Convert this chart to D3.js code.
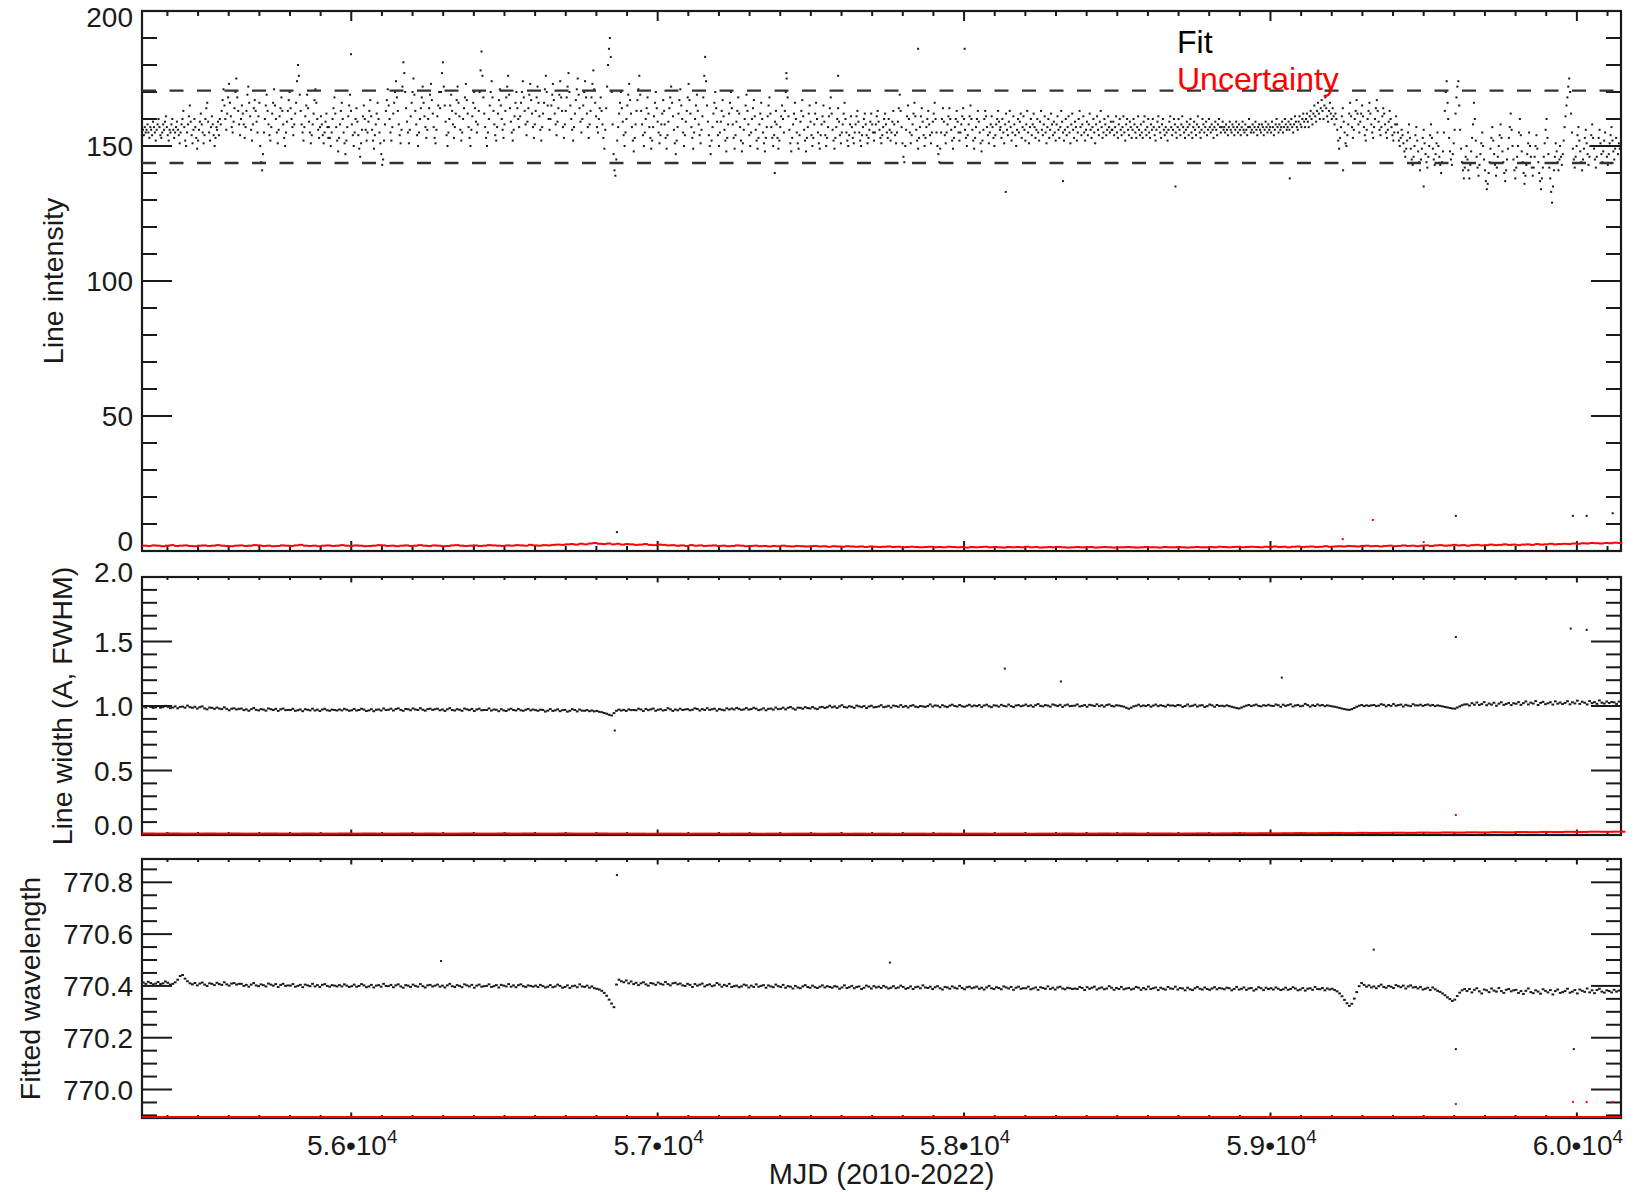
<!DOCTYPE html>
<html>
<head>
<meta charset="utf-8">
<script src="https://cdn.jsdelivr.net/npm/d3@7"></script>
<style>
  html, body { margin: 0; padding: 0; background: #fff; }
  svg { display: block; }
</style>
</head>
<body>
<svg id="chart" width="1645" height="1192"></svg>
<script>
// ---------------------------------------------------------------------------
// Line fit results over the mission (MJD). Intensity fits are stored per
// calendar year at a 3-day cadence, starting on the first day of each block.
// ---------------------------------------------------------------------------
const fitYearStart = [55317, 55562, 55927, 56293, 56658, 57023, 57388, 57754, 58119, 58484, 58849, 59215, 59580, 59945];
const fitCadence = 3;

const fit2010 = [155,156,154,157,155,156,158,155,153,157,156,154,159,157,155,152,156,158,160,157,154,153,155,158,156,159,161,157,154,152,156,155,158,160,156,153,155,157,159,156,154,151,155,158,
  160,163,157,152,150,155,158,161,165,159,154,151,156,160,157,153,149,152,156,159,162,158,155,151,154,160,164,166,159,155,152,157,161,158,154,150,153,157];
const fit2011 = [156,159,154,160,158,
  163,167,171,165,160,156,162,168,173,166,161,157,155,159,164,170,175,168,163,158,154,160,165,162,158,153,157,163,169,172,166,161,156,152,158,164,167,163,159,155,161,166,
  150,144,141,147,155,160,165,169,163,
  158,154,152,157,162,166,171,165,160,155,151,156,161,164,168,163,158,153,150,155,159,163,167,170,164,160,157,154,158,162,166,
  174,180,176,169,
  163,158,155,152,157,161,165,169,164,159,155,151,154,158,162,167,171,166,160,156,153,157,161,
  158,154,151,155,159,162,157,153];
const fit2012 = [157,153,150,155,160,164,168,162,157,152,148,153,158,163,166,160,155,151,147,152,157,161,165,169,163,158,154,150,155,160,164,159,154,149,146,151,156,161,165,160,156,152,155,159,163,167,161,156,152,149,154,158,162,166,160,155,151,
  147,143,145,152,
  158,163,167,171,165,160,155,152,157,162,166,170,174,168,163,158,154,151,156,
  172,181,177,170,
  164,159,155,151,156,161,166,170,175,169,163,158,154,150,155,160,164,168,172,166,161,157,153,156,160,164,169,173,167,162,157,153,151,156,161,165,170,164];
const fit2013 = [170,177,181,172,165,159,
  154,150,155,160,165,169,163,158,153,157,162,167,172,166,161,156,152,155,160,164,168,173,167,162,157,153,150,156,161,166,170,164,159,155,158,163,
  170,178,185,176,168,
  162,157,153,150,155,160,165,170,174,168,163,158,154,152,157,162,167,171,165,160,156,153,158,163,168,172,176,169,164,159,155,152,156,161,166,170,164,160,157,
  161,166,170,174,168,163,158,154,159,164,169,173,167,162,157,153,158,163,168,172,166,161,156,152,157,162,166,171,176,170,165,160,156,160,165,169];
const fit2014 = [173,167,162,158,154,159,164,169,174,168,163,157,153,158,163,168,172,177,170,165,160,156,152,157,162,167,171,175,169,164,159,155,160,165,170,174,168,162,157,153,158,163,168,173,178,171,166,161,157,155,160,164,168,163,158,
  153,149,156,164,172,180,186,190,183,170,158,147,141,139,145,
  152,157,162,166,170,164,159,154,150,155,160,165,169,173,167,162,157,152,148,153,158,163,167,171,176,169,163,158,154,150,155,160,164,168,162,157,153,149,152,157,161,166,170,164,159,155,151,154,158,162,167,163];
const fit2015 = [158,153,149,154,159,164,168,172,166,161,156,151,147,152,157,162,167,171,165,160,155,150,154,159,163,168,173,167,162,157,153,149,155,160,165,169,163,158,154,151,156,161,
  168,176,183,174,165,
  159,154,150,147,152,157,162,166,170,164,159,154,150,155,159,163,167,161,156,152,148,153,158,162,166,170,164,158,153,149,154,159,163,168,162,157,152,148,151,156,160,165,169,163,158,154,150,155,160,164,167,161,156,152,149,153,158,
  162,166,160,155,151,148,153,157,161,165,168,162,157,153,150,154,159,163];
const fit2016 = [158,153,149,152,157,161,165,160,155,163,170,175,168,161,156,151,148,153,158,162,166,160,155,151,149,154,159,163,167,161,156,152,148,153,157,162,165,159,154,150,153,158,162,166,160,155,151,149,154,158,161,165,159,154,150,153,157,161,164,168,162,156,152,149,153,157,160,164,159,154,151,155,158,162,166,160,155,152,150,154,158,161,157,
  153,151,155,158,161,163,159,155,152,150,154,157,160,162,158,154,151,153,156,159,162,158,155,152,155,158,161,163,159,156,153,151,154,157,160,162,158,155,153];
const fit2017 = [160,156,152,155,159,163,158,154,151,155,159,164,169,163,157,151,146,144,150,156,161,165,160,155,151,154,158,162,166,161,
  156,152,149,153,157,161,164,159,154,150,153,157,160,163,158,154,151,155,159,162,166,160,155,150,147,144,149,155,160,164,
  159,154,151,155,158,161,164,160,156,152,149,153,157,160,163,159,155,152,155,158,161,164,160,156,153,150,154,158,161,165,
  160,156,152,149,153,157,160,163,159,155,151,148,152,156,160,163,161,157,154,151,155,158,161,157,153,150,154,158,160,163,159,156];
const fit2018 = [157,153,160,155,151,158,162,156,154,159,163,157,152,155,161,158,154,150,156,160,
  155,159,162,153,157,161,156,152,158,163,155,151,157,160,154,158,162,157,153,156,
  160,155,152,159,163,156,154,158,161,155,151,157,160,153,156,162,158,154,159,155,
  152,158,161,156,153,157,163,159,155,152,156,160,154,157,161,155,151,158,162,156,
  153,159,157,152,155,160,163,157,154,158,161,155,152,156,159,154,158,162,156,153,
  157,160,155,151,158,161,156,154,159,163,157,153,155,160,158,154,156,161,157,155,159,156];
const fit2019 = [156,159,154,157,161,155,153,158,160,156,154,157,161,155,152,158,160,156,154,159,
  157,153,156,160,158,155,153,157,161,156,154,158,155,153,159,161,156,154,157,160,
  155,153,158,156,160,157,154,152,156,159,161,157,155,153,158,160,156,154,157,155,
  152,156,159,161,157,154,156,160,158,155,153,157,160,156,154,158,161,157,155,153,
  156,159,157,154,158,160,155,153,157,159,156,154,158,161,157,155,153,156,160,158,
  155,157,159,154,156,160,157,155,158,156,153,157,159,156,154,158,160,157,155,157,159,156];
const fit2020 = [157,155,158,156,154,157,159,156,155,158,157,154,156,159,157,155,158,156,154,157,
  159,156,155,158,156,154,157,160,157,155,156,158,155,157,159,156,154,157,158,156,
  155,158,157,154,156,159,157,155,158,156,157,155,159,157,154,156,158,160,157,155,
  158,156,157,159,155,157,160,158,156,157,159,156,158,160,157,155,158,161,159,157,
  156,159,161,158,157,160,162,159,157,160,162,159,157,161,163,160,158,162,165,161,
  159,163,166,162,160,164,167,163,160,165,168,164,161,159,163,166,162,160,164,161,158,162];
const fit2021 = [160,156,152,149,153,157,161,164,159,155,151,150,154,158,162,166,161,157,153,156,160,163,167,162,158,155,159,162,165,161,
  157,154,152,156,160,163,166,162,158,155,153,157,160,164,167,163,159,156,154,157,161,164,162,158,155,153,156,159,163,160,
  157,154,152,155,158,161,158,155,152,150,153,156,154,
  151,148,146,149,152,155,158,153,149,145,143,146,150,154,157,152,148,144,141,145,149,153,156,151,147,144,142,146,150,154,
  158,153,149,145,143,147,151,155,150,146,143,140,144,148,155,163,170,174,166];
const fit2022 = [160,153,148,145,143,147,151,156,162,168,172,174,165,156,149,144,141,138,142,146,150,145,141,138,143,148,153,158,166,160,
  152,146,142,139,143,147,151,155,150,145,141,137,134,136,140,144,149,153,157,152,147,143,139,142,146,150,154,158,153,148,
  144,140,137,141,145,149,153,157,162,156,150,145,141,138,142,146,150,155,160,154,148,144,140,136,139,143,147,151,155,150,
  146,142,139,142,146,150,154,149,144,140,137,134,138,142,146,151,156,160,153,147,142,138,133,129,135,141,146,151,148,144,141,145];
const fit2023 = [150,146,143,147,152,157,161,165,168,172,175,170,162,155,149,145,142,146,150,154,157,152,148,144,141,145,149,153,156,151,
  147,143,146,150,154,158,153,149,145,142,146,150,153,156,151,147,144,148,152,155,150,146,143,147,151,154,157,152,148,145,149,153,150,147,151,149];

// Isolated intensity fits, [MJD, value]
const fitStray = [[55999,184],[57382,140],[57420,177],[57589,176],[57850,186],[58002,186],[58136,133],[58323,137],[58690,135],
  [59063,138],[59237,141],[59500,135],[56867,7],[59605,13],[59987,13],[60032,13],[60117,14]];

// Intensity uncertainty, 15-day cadence from MJD 55317
const sigmaCadence = 15;
const fitSigma = [1.6,1.5,1.7,1.6,1.4,1.6,1.8,1.5,1.6,1.7,1.5,1.4,1.6,1.7,1.5,1.6,1.8,1.6,1.5,1.4,1.6,1.7,1.5,1.6,1.8,1.7,1.5,1.6,1.4,1.5,
  1.7,1.6,1.5,1.7,1.9,1.6,1.5,1.6,1.4,1.6,1.7,1.5,1.6,1.8,1.6,1.5,1.7,1.6,1.4,1.5,1.6,1.8,1.7,1.5,1.6,1.4,1.6,1.7,1.5,1.6,
  1.8,1.6,1.5,1.7,1.6,1.4,1.5,1.7,1.8,1.6,1.5,1.6,1.7,1.5,1.6,1.8,1.7,1.6,1.5,1.7,1.6,1.8,1.7,1.6,1.9,1.7,1.6,1.8,1.7,1.9,
  2.0,1.9,2.1,2.2,2.0,2.3,2.1,2.4,2.6,2.3,2.2,2.4,2.1,2.3,2.0,2.2,2.1,1.9,2.0,2.2,1.9,1.8,2.0,1.9,
  1.7,1.8,1.6,1.7,1.5,1.8,1.6,1.7,1.5,1.6,1.7,1.5,1.6,1.4,1.5,1.7,1.6,1.4,1.5,1.6,1.4,1.5,1.3,1.5,1.4,1.6,1.4,1.3,1.5,1.4,
  1.3,1.4,1.5,1.3,1.4,1.2,1.4,1.3,1.2,1.4,1.3,1.2,1.3,1.1,1.3,1.2,1.1,1.2,1.3,
  1.1,1.2,1.0,1.1,1.2,1.1,1.0,1.1,1.2,1.0,1.1,1.0,1.2,1.1,1.0,1.1,0.9,1.1,1.0,1.1,1.2,1.0,1.1,1.0,0.9,1.1,1.0,1.1,1.0,1.2,
  1.0,1.1,0.9,1.0,1.1,1.0,1.1,1.0,0.9,1.0,1.1,1.0,1.0,1.1,0.9,1.0,1.1,1.0,0.9,1.0,1.0,1.1,1.0,0.9,1.0,1.1,1.0,1.0,0.9,1.1,
  1.0,1.0,1.1,1.0,0.9,1.0,1.1,1.0,1.0,1.1,1.0,1.2,1.1,1.0,1.1,1.2,1.0,1.1,1.2,1.1,1.0,1.2,1.1,1.3,1.1,1.2,1.0,1.2,1.3,1.1,
  1.2,1.3,1.1,1.2,1.4,1.2,1.3,
  1.4,1.3,1.5,1.4,1.3,1.5,1.6,1.4,1.5,1.3,1.5,1.6,1.4,1.5,1.7,1.5,1.6,1.4,1.6,1.7,1.5,1.7,1.8,1.6,1.7,1.9,1.7,1.8,1.6,1.8,
  1.9,1.7,1.8,2.0,1.8,1.9,2.1,1.9,2.0,1.8,2.0,2.1,1.9,2.2,2.0,2.1,2.3,2.1,2.2,
  2.3,2.2,2.4,2.3,2.5,2.4,2.6,2.5,2.4,2.6,2.5,2.7,2.6];
const fitSigmaStray = [[59236,4.4],[59334,11.5],[59500,3.3]];

// Line width (A, FWHM), 8-day cadence from MJD 55317
const seriesCadence = 8;
const lineWidth = [
  0.995,0.988,1.000,0.993,0.985,0.989,0.999,0.987,0.991,1.001,0.994,0.983,0.988,0.997,0.982,0.993,0.995,0.987,1.003,0.991,
  0.986,0.994,0.980,0.991,0.997,0.981,0.974,0.988,0.986,0.978,0.988,0.980,0.976,0.990,0.978,0.967,0.979,0.982,0.973,0.978,
  0.980,0.968,0.974,0.963,0.975,0.984,0.970,0.966,0.976,0.972,0.964,0.981,0.975,0.969,0.978,0.962,0.974,0.980,0.968,0.970,
  0.969,0.978,0.963,0.967,0.973,0.960,0.975,0.971,0.966,0.979,0.965,0.972,0.961,0.973,0.978,0.967,0.963,0.972,0.969,0.965,
  0.973,0.966,0.978,0.971,0.963,0.967,0.977,0.965,0.969,0.979,0.972,0.961,0.966,0.975,0.960,0.971,0.973,0.965,0.981,0.969,
  0.971,0.979,0.965,0.976,0.982,0.970,0.963,0.977,0.975,0.967,0.981,0.973,0.969,0.983,0.971,0.964,0.976,0.979,0.970,0.975,
  0.979,0.967,0.973,0.962,0.974,0.983,0.969,0.965,0.975,0.971,0.963,0.980,0.974,0.968,0.977,0.961,0.973,0.979,0.967,0.969,
  0.969,0.981,0.965,0.973,0.971,0.960,0.975,0.966,0.961,0.972,0.979,0.969,0.965,0.977,0.967,0.963,0.971,0.978,0.966,0.973,
  0.968,0.963,0.972,0.969,0.957,0.964,0.976,0.962,0.966,0.974,0.960,0.968,0.970,0.956,0.963,0.975,0.969,0.958,0.972,0.964,
  0.963,0.968,0.960,0.965,0.958,0.962,0.955,0.952,0.946,0.940,0.932,0.927,0.945,0.963,0.972,0.965,0.970,0.962,0.974,0.968,
  0.969,0.967,0.979,0.973,0.961,0.977,0.968,0.974,0.980,0.963,0.971,0.975,0.965,0.969,0.983,0.974,0.962,0.973,0.967,0.979,
  0.969,0.973,0.976,0.967,0.971,0.982,0.977,0.965,0.976,0.969,0.983,0.970,0.975,0.979,0.964,0.977,0.971,0.967,0.982,0.973,
  0.980,0.973,0.985,0.978,0.970,0.974,0.984,0.972,0.976,0.986,0.979,0.968,0.973,0.982,0.967,0.978,0.980,0.972,0.988,0.976,
  0.978,0.987,0.974,0.986,0.992,0.981,0.972,0.987,0.986,0.979,0.991,0.984,0.981,0.992,0.981,0.976,0.990,0.993,0.985,0.991,
  1.002,0.990,0.996,0.985,0.997,1.006,0.992,0.988,0.998,0.994,0.986,1.003,0.997,0.991,1.000,0.984,0.996,1.002,0.990,0.992,
  0.997,1.006,0.991,0.995,1.001,0.988,1.003,0.999,0.994,1.007,0.993,1.000,0.989,1.001,1.006,0.995,0.991,1.000,0.997,0.993,
  1.000,1.012,0.996,1.004,1.002,0.991,1.006,0.997,0.992,1.003,1.010,1.000,0.996,1.008,0.998,0.994,1.002,1.009,0.997,1.004,
  0.999,1.007,0.993,1.004,1.010,0.998,0.991,1.005,1.003,0.995,1.009,1.001,0.997,1.011,0.999,0.992,1.004,1.007,0.998,1.003,
  1.011,0.999,1.005,0.994,1.006,1.015,1.001,0.997,1.007,1.003,0.995,1.012,1.006,1.000,1.009,0.993,1.005,1.011,0.999,1.001,
  1.003,1.012,0.997,1.001,1.007,0.994,1.009,1.005,1.000,1.013,0.999,1.006,0.995,1.007,1.012,1.001,0.997,1.006,1.003,0.999,
  0.995,0.986,0.979,0.987,0.997,1.002,1.010,0.998,1.004,1.000,1.008,0.995,1.003,1.011,0.999,1.006,1.001,0.996,1.009,1.003,
  1.004,0.999,1.008,1.005,0.993,1.000,1.012,0.998,1.002,1.010,0.996,1.004,1.006,0.992,0.999,1.011,1.005,0.994,1.008,1.000,
  1.002,0.998,1.005,0.999,0.994,0.989,0.984,0.981,0.988,0.996,1.003,1.008,0.999,1.005,1.011,1.001,0.997,1.006,1.002,1.009,
  1.002,1.000,1.012,1.006,0.994,1.010,1.001,1.007,1.013,0.996,1.004,1.008,0.998,1.002,1.016,1.007,0.995,1.006,1.000,1.012,
  1.003,1.008,0.999,1.005,1.001,0.997,0.994,0.990,0.985,0.980,0.976,0.972,0.970,0.976,0.985,0.994,1.002,1.008,0.999,1.005,
  1.001,1.005,1.008,0.999,1.003,1.014,1.009,0.997,1.008,1.001,1.015,1.002,1.007,1.011,0.996,1.009,1.003,0.999,1.014,1.005,
  1.004,1.010,1.001,1.007,1.012,1.003,1.008,0.999,1.005,1.001,0.997,0.993,0.989,0.985,0.981,0.979,0.988,0.997,1.006,1.012,
  1.013,1.004,1.022,1.010,1.027,1.008,1.015,1.030,1.006,1.019,1.011,1.025,1.002,1.018,1.029,1.009,1.016,1.024,1.007,1.021,
  1.017,1.030,1.009,1.022,1.035,1.012,1.026,1.019,1.038,1.008,1.024,1.032,1.014,1.021,1.029,1.011,1.036,1.018,1.027,1.015,
  1.024,1.037,1.013,1.029,1.020,1.041,1.016,1.033,1.025,1.012,1.038,1.022,1.030,1.017,1.043,1.026,1.019,1.035,1.023,1.031,
  1.028,1.016,1.034];
const widthStray = [[56860,0.81],[58133,1.29],[58316,1.19],[59037,1.22],[59605,1.535],[59980,1.60],[60032,1.59]];

// Width uncertainty, 40-day cadence from MJD 55317
const coarseCadence = 40;
const widthSigma = [0.004,0.003,0.004,0.003,0.003,0.004,0.003,0.004,0.003,0.003,0.004,0.003,0.003,0.004,0.003,0.003,0.004,0.003,0.004,0.003,
  0.003,0.004,0.003,0.004,0.003,0.003,0.004,0.003,0.003,0.004,0.003,0.004,0.003,0.003,0.004,0.003,0.003,0.004,0.003,0.003,
  0.003,0.002,0.003,0.003,0.002,0.003,0.003,0.002,0.003,0.003,0.002,0.003,0.002,0.003,0.003,0.002,0.003,0.002,0.003,0.002,
  0.003,0.002,0.003,0.003,0.002,0.003,0.002,0.003,0.003,0.002,0.003,0.003,0.002,0.003,0.003,0.004,0.003,0.003,0.004,0.003,
  0.004,0.003,0.004,0.004,0.003,0.004,0.005,0.004,0.005,0.006,0.005,0.006,0.005,0.006,0.007,0.006,0.007,0.008,0.007,0.009,
  0.008,0.009,0.010,0.009,0.011,0.010,0.012,0.011,0.013,0.012,0.014,0.013,0.015,0.014,0.016,0.015,0.017,0.016,0.018,0.017,0.018];
const widthSigmaStray = [[59605,0.155]];

// Fitted line centre (nm), 8-day cadence from MJD 55317
const fittedWavelength = [
  770.413,770.408,770.416,770.411,770.406,770.409,770.415,770.407,770.410,770.417,770.412,770.405,770.408,770.414,770.424,770.438,770.442,770.428,770.418,770.410,
  770.406,770.411,770.402,770.409,770.413,770.405,770.400,770.410,770.408,770.403,770.412,770.407,770.404,770.414,770.406,770.401,770.409,770.411,770.405,770.408,
  770.408,770.400,770.404,770.397,770.405,770.411,770.402,770.399,770.406,770.403,770.398,770.409,770.405,770.401,770.407,770.396,770.404,770.408,770.400,770.402,
  770.401,770.407,770.397,770.400,770.404,770.395,770.405,770.402,770.399,770.408,770.398,770.403,770.396,770.404,770.407,770.400,770.397,770.403,770.401,770.398,
  770.403,770.398,770.406,770.401,770.396,770.399,770.405,770.397,770.400,770.407,770.402,770.395,770.398,770.404,770.394,770.401,770.403,770.397,770.408,770.400,
  770.399,770.404,770.395,770.402,770.406,770.398,770.393,770.403,770.401,770.396,770.405,770.400,770.397,770.407,770.399,770.394,770.402,770.404,770.398,770.401,
  770.405,770.397,770.401,770.394,770.402,770.408,770.399,770.396,770.403,770.400,770.395,770.406,770.402,770.398,770.404,770.393,770.401,770.405,770.397,770.399,
  770.400,770.406,770.396,770.399,770.403,770.394,770.404,770.401,770.398,770.407,770.397,770.402,770.395,770.403,770.406,770.399,770.396,770.402,770.400,770.397,
  770.401,770.396,770.404,770.399,770.394,770.397,770.403,770.395,770.398,770.405,770.400,770.393,770.396,770.402,770.392,770.399,770.401,770.395,770.406,770.398,
  770.396,770.401,770.393,770.398,770.391,770.389,770.386,770.381,770.373,770.362,770.347,770.332,770.318,770.405,770.424,770.418,770.414,770.421,770.410,770.417,
  770.407,770.412,770.403,770.410,770.414,770.406,770.401,770.411,770.409,770.404,770.413,770.408,770.405,770.415,770.407,770.402,770.410,770.412,770.406,770.409,
  770.402,770.400,770.408,770.404,770.396,770.407,770.401,770.405,770.409,770.398,770.403,770.406,770.399,770.402,770.411,770.405,770.397,770.404,770.400,770.408,
  770.396,770.399,770.401,770.395,770.398,770.405,770.402,770.394,770.401,770.396,770.406,770.397,770.400,770.403,770.393,770.402,770.398,770.395,770.405,770.399,
  770.396,770.404,770.393,770.399,770.397,770.390,770.400,770.394,770.391,770.398,770.403,770.396,770.393,770.401,770.395,770.392,770.397,770.402,770.394,770.399,
  770.396,770.393,770.399,770.397,770.389,770.394,770.402,770.392,770.395,770.400,770.391,770.396,770.398,770.388,770.393,770.401,770.397,770.390,770.399,770.394,
  770.397,770.392,770.400,770.395,770.390,770.393,770.399,770.391,770.394,770.401,770.396,770.389,770.392,770.398,770.388,770.395,770.397,770.391,770.402,770.394,
  770.392,770.397,770.388,770.395,770.399,770.391,770.386,770.396,770.394,770.389,770.398,770.393,770.390,770.400,770.392,770.387,770.395,770.397,770.391,770.394,
  770.397,770.389,770.393,770.386,770.394,770.400,770.391,770.388,770.395,770.392,770.387,770.398,770.394,770.390,770.396,770.385,770.393,770.397,770.389,770.391,
  770.391,770.397,770.387,770.390,770.394,770.385,770.395,770.392,770.389,770.398,770.388,770.393,770.386,770.394,770.397,770.390,770.387,770.393,770.391,770.388,
  770.390,770.388,770.396,770.392,770.384,770.395,770.389,770.393,770.397,770.386,770.391,770.394,770.387,770.390,770.399,770.393,770.385,770.392,770.388,770.396,
  770.387,770.390,770.392,770.386,770.389,770.396,770.393,770.385,770.392,770.387,770.397,770.388,770.391,770.394,770.384,770.393,770.389,770.386,770.396,770.390,
  770.389,770.397,770.386,770.392,770.390,770.383,770.393,770.387,770.384,770.391,770.396,770.389,770.386,770.394,770.388,770.385,770.390,770.395,770.387,770.392,
  770.390,770.387,770.393,770.391,770.383,770.388,770.396,770.386,770.389,770.394,770.385,770.390,770.392,770.382,770.387,770.395,770.391,770.384,770.393,770.388,
  770.391,770.386,770.394,770.389,770.384,770.387,770.393,770.385,770.388,770.395,770.390,770.383,770.386,770.392,770.382,770.389,770.391,770.385,770.396,770.388,
  770.387,770.392,770.383,770.390,770.386,770.389,770.384,770.379,770.371,770.360,770.346,770.333,770.323,770.331,770.351,770.376,770.399,770.411,770.404,770.397,
  770.402,770.394,770.398,770.391,770.399,770.405,770.396,770.393,770.400,770.397,770.392,770.403,770.399,770.395,770.401,770.390,770.398,770.402,770.394,770.396,
  770.390,770.396,770.386,770.389,770.393,770.384,770.394,770.387,770.381,770.377,770.371,770.364,770.356,770.349,770.342,770.347,770.361,770.374,770.383,770.388,
  770.380,770.388,770.375,770.385,770.391,770.379,770.371,770.386,770.383,770.376,770.390,770.382,770.378,770.392,770.380,770.373,770.385,770.388,770.379,770.383,
  770.385,770.373,770.380,770.369,770.381,770.390,770.376,770.372,770.383,770.378,770.370,770.387,770.381,770.375,770.384,770.367,770.380,770.386,770.373,770.376,
  770.380,770.389,770.374,770.378,770.384,770.371,770.386,770.381,770.377,770.390,770.375,770.383,770.372,770.384,770.389,770.378,770.374,770.383,770.380,770.375,
  770.385,770.378,770.382];
const wavelengthStray = [[56293,770.496],[56867,770.828],[57758,770.49],[59337,770.54],[59605,770.156],[59990,770.156]];

// Line-centre uncertainty (nm), 60-day cadence from MJD 55317
const wideCadence = 60;
const wavelengthSigma = [0.002,0.002,0.001,0.002,0.002,0.001,0.002,0.002,0.002,0.001,0.002,0.002,0.001,0.002,0.002,0.002,0.001,0.002,0.002,0.001,
  0.002,0.002,0.001,0.002,0.002,0.002,0.001,0.002,0.001,0.001,0.002,0.001,0.001,0.002,0.001,0.001,0.001,0.002,0.001,0.001,
  0.001,0.002,0.001,0.001,0.001,0.002,0.001,0.001,0.002,0.001,0.002,0.001,0.002,0.002,0.001,0.002,0.002,0.002,0.001,0.002,
  0.002,0.002,0.002,0.003,0.002,0.002,0.003,0.002,0.003,0.003,0.002,0.003,0.003,0.003,0.004,0.003,0.003,0.004,0.003,0.004,0.004];
const wavelengthSigmaStray = [[59605,769.944],[59987,769.952],[60032,769.952],[60117,769.952]];

// Reference band drawn on the intensity panel
const intensityBand = [143.7, 170.5];

// Axis settings
const mjdDomain = [55317, 60144];
const yTitles = ["Line intensity", "Line width (A, FWHM)", "Fitted wavelength"];
const xTitle = "MJD (2010-2022)";
const legendLabels = ["Fit", "Uncertainty"];

// ---------------------------------------------------------------------------
const FONT = '"Liberation Sans", Arial, Helvetica, sans-serif';
const INK = "#1a1a1a";
const RED = "#ff0000";
const TICK_FONT = 28, TITLE_FONT = 28.5;
const svg = d3.select("#chart");
svg.append("rect").attr("width", 1645).attr("height", 1192).attr("fill", "#fff");

const left = 142, right = 1621;
const x = d3.scaleLinear().domain(mjdDomain).range([left, right]);

const panels = [
  { top: 11, bottom: 551, domain: [0, 200], step: 10, majorEvery: 5, fmt: d3.format("d"),
    xMajorLen: 10, xMinorLen: 5, titleX: 63, labelNudge: { first: -10, last: 6 } },
  { top: 577, bottom: 835, domain: [0, 2], step: 0.1, majorEvery: 5, fmt: d3.format(".1f"),
    xMajorLen: 5.5, xMinorLen: 3, titleX: 72, labelNudge: { first: -10, last: -5 } },
  { top: 859, bottom: 1118, domain: [769.89, 770.89], step: 0.05, majorEvery: 4, fmt: d3.format(".1f"),
    xMajorLen: 5.5, xMinorLen: 3, titleX: 40, labelNudge: {} }
];
panels.forEach(p => {
  p.y = d3.scaleLinear().domain(p.domain).range([p.bottom, p.top]);
  p.yClamp = p.y.copy().clamp(true);
});

// Series assembly: regular cadence sampling from a start MJD
const sampled = (vals, start, cadence) => vals.map((v, i) => ({ mjd: start + i * cadence, v, span: cadence }));
const intensity = [fit2010, fit2011, fit2012, fit2013, fit2014, fit2015, fit2016, fit2017, fit2018, fit2019, fit2020, fit2021, fit2022, fit2023]
  .flatMap((vals, k) => sampled(vals, fitYearStart[k], fitCadence))
  .concat(fitStray.map(([mjd, v]) => ({ mjd, v })));

const plotArea = svg.append("g");

// Frames and ticks
panels.forEach((p, pi) => {
  const g = plotArea.append("g");
  // y ticks (left and right, pointing inward)
  const k0 = Math.ceil(p.domain[0] / p.step - 1e-6), k1 = Math.floor(p.domain[1] / p.step + 1e-6);
  const yTicks = d3.range(k0, k1 + 1).map(k => ({ v: +(k * p.step).toFixed(4), major: k % p.majorEvery === 0 }));
  g.selectAll("line.yl").data(yTicks).join("line")
    .attr("x1", left).attr("x2", d => left + (d.major ? 30 : 15))
    .attr("y1", d => p.y(d.v)).attr("y2", d => p.y(d.v))
    .attr("stroke", INK).attr("stroke-width", 2);
  g.selectAll("line.yr").data(yTicks).join("line")
    .attr("x1", right).attr("x2", d => right - (d.major ? 30 : 15))
    .attr("y1", d => p.y(d.v)).attr("y2", d => p.y(d.v))
    .attr("stroke", INK).attr("stroke-width", 2);

  // y tick labels on the major ticks
  const majors = yTicks.filter(d => d.major);
  g.selectAll("text.yt").data(majors).join("text")
    .attr("x", left - 9)
    .attr("y", (d, i) => {
      let yy = p.y(d.v) + 10;
      if (i === 0 && p.labelNudge.first && Math.abs(p.y(d.v) - p.bottom) < 1) yy += p.labelNudge.first;
      if (i === majors.length - 1 && p.labelNudge.last && Math.abs(p.y(d.v) - p.top) < 1) yy += p.labelNudge.last;
      return yy;
    })
    .attr("text-anchor", "end").attr("font-family", FONT).attr("font-size", TICK_FONT).attr("fill", INK)
    .text(d => p.fmt(d.v));

  // x ticks (top and bottom of each panel)
  const xTicks = d3.range(55400, 60101, 100).map(v => ({ v, major: v % 1000 === 0 }));
  g.selectAll("line.xb").data(xTicks).join("line")
    .attr("x1", d => x(d.v)).attr("x2", d => x(d.v))
    .attr("y1", p.bottom).attr("y2", d => p.bottom - (d.major ? p.xMajorLen : p.xMinorLen))
    .attr("stroke", INK).attr("stroke-width", 2);
  g.selectAll("line.xt").data(xTicks).join("line")
    .attr("x1", d => x(d.v)).attr("x2", d => x(d.v))
    .attr("y1", p.top).attr("y2", d => p.top + (d.major ? p.xMajorLen : p.xMinorLen))
    .attr("stroke", INK).attr("stroke-width", 2);

  g.append("rect")
    .attr("x", left).attr("y", p.top).attr("width", right - left).attr("height", p.bottom - p.top)
    .attr("fill", "none").attr("stroke", INK).attr("stroke-width", 2.2);

  // y axis title
  g.append("text")
    .attr("transform", `translate(${p.titleX},${(p.top + p.bottom) / 2}) rotate(-90)`)
    .attr("text-anchor", "middle").attr("font-family", FONT).attr("font-size", TITLE_FONT).attr("fill", INK)
    .text(yTitles[pi]);
});

// ---------------------------------------------------------------------------
// Data marks
const [pI, pW, pL] = panels;

// uncertainty traces: short red steps spanning each sample's cadence
function sigmaSteps(rows, scale) {
  plotArea.append("g").selectAll("rect").data(rows).join("rect")
    .attr("x", d => x(d.mjd))
    .attr("width", d => Math.max(1.6, x(d.mjd + d.span) - x(d.mjd) + 0.4))
    .attr("y", d => scale(d.v) - 2)
    .attr("height", 2)
    .attr("fill", RED);
}
function strayDots(rows, scale, color) {
  plotArea.append("g").selectAll("rect").data(rows).join("rect")
    .attr("x", d => x(d[0]) - 1).attr("y", d => scale(d[1]) - 1)
    .attr("width", 2).attr("height", 2).attr("fill", color);
}
// fitted trace: short dark steps
function fitSteps(rows, scale) {
  plotArea.append("g").selectAll("rect").data(rows).join("rect")
    .attr("x", d => x(d.mjd))
    .attr("width", d => x(d.mjd + d.span) - x(d.mjd) + 0.3)
    .attr("y", d => scale(d.v) - 1)
    .attr("height", 2)
    .attr("fill", INK);
}

// Intensity panel
sigmaSteps(sampled(fitSigma, mjdDomain[0], sigmaCadence), pI.y);
strayDots(fitSigmaStray, pI.y, RED);
plotArea.append("g").selectAll("rect").data(intensity).join("rect")
  .attr("x", d => x(d.mjd) - 1).attr("y", d => pI.y(d.v) - 1)
  .attr("width", 2).attr("height", 2)
  .attr("fill", "#1a1a1a");

// Width panel
fitSteps(sampled(lineWidth, mjdDomain[0], seriesCadence), pW.y);
strayDots(widthStray, pW.y, INK);
sigmaSteps(sampled(widthSigma, mjdDomain[0], coarseCadence), pW.yClamp);
strayDots(widthSigmaStray, pW.y, RED);

// Wavelength panel
fitSteps(sampled(fittedWavelength, mjdDomain[0], seriesCadence), pL.y);
strayDots(wavelengthStray, pL.y, INK);
sigmaSteps(sampled(wavelengthSigma, mjdDomain[0], wideCadence).map(d => ({ ...d, span: Math.min(d.span, mjdDomain[1] - d.mjd) })), pL.yClamp);
strayDots(wavelengthSigmaStray, pL.y, RED);

// Reference band on the intensity panel
plotArea.append("g").selectAll("line").data(intensityBand).join("line")
  .attr("x1", left).attr("x2", right)
  .attr("y1", d => pI.y(d)).attr("y2", d => pI.y(d))
  .attr("stroke", "#333").attr("stroke-width", 2.4)
  .attr("stroke-dasharray", "14,13.5");

// ---------------------------------------------------------------------------
// x tick labels (scientific notation) and title
const xLabels = d3.range(56000, 60001, 1000);
const xl = svg.append("g").selectAll("text").data(xLabels).join("text")
  .attr("x", d => x(d) + 1).attr("y", 1155)
  .attr("text-anchor", "middle").attr("font-family", FONT).attr("font-size", TICK_FONT).attr("fill", INK);
xl.append("tspan").text(d => d3.format(".1f")(d / 1e4) + "\u202210");
xl.append("tspan").attr("font-size", 19).attr("dy", -12).text("4");

svg.append("text")
  .attr("x", (left + right) / 2).attr("y", 1184)
  .attr("text-anchor", "middle").attr("font-family", FONT).attr("font-size", 29).attr("fill", INK)
  .text(xTitle);

// Legend
svg.append("text").attr("x", 1177).attr("y", 53)
  .attr("font-family", FONT).attr("font-size", 32).attr("fill", "#000").text(legendLabels[0]);
svg.append("text").attr("x", 1177).attr("y", 90)
  .attr("font-family", FONT).attr("font-size", 32).attr("fill", RED).text(legendLabels[1]);
</script>
</body>
</html>
